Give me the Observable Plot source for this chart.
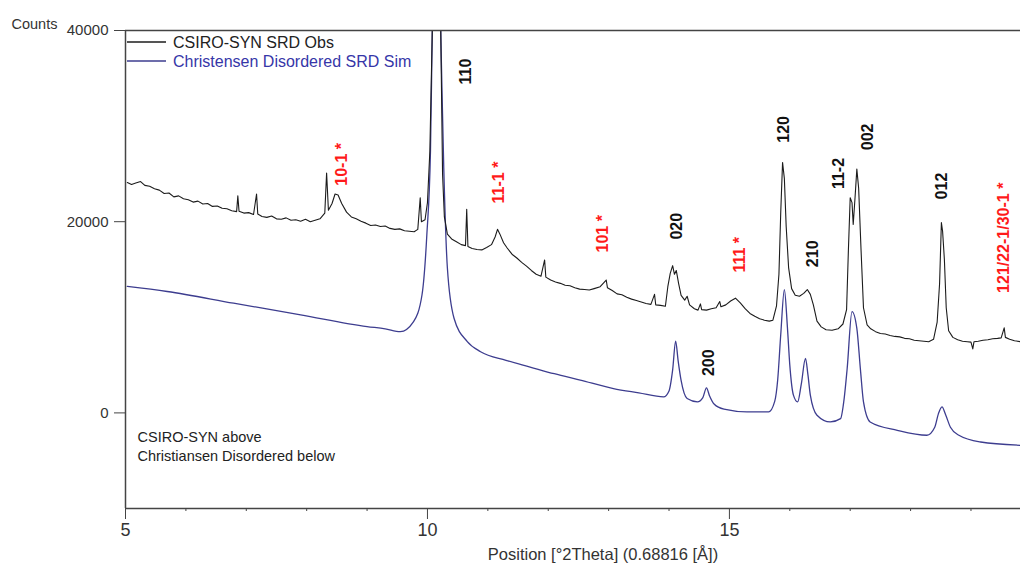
<!DOCTYPE html>
<html><head><meta charset="utf-8">
<script src="https://cdn.jsdelivr.net/npm/d3@7"></script>
<script src="https://cdn.jsdelivr.net/npm/@observablehq/plot@0.6"></script>
<style>
body{margin:0;background:#fff;}
#chart svg{font-family:"Liberation Sans",Arial,sans-serif;overflow:visible;}
</style></head><body><div id="chart"></div>
<script>
// Observed pattern (CSIRO-SYN SRD Obs)
const obsTheta = [5.03,5.10,5.17,5.25,5.32,5.40,5.48,5.56,5.64,5.72,5.80,5.88,5.96,6.04,6.12,6.20,6.28,6.36,6.44,6.52,6.60,6.68,6.76,6.84,6.86,6.88,6.96,7.04,7.12,7.17,7.19,7.26,7.34,7.42,7.50,7.58,7.66,7.74,7.82,7.90,7.98,8.06,8.14,8.22,8.30,8.33,8.36,8.42,8.47,8.52,8.58,8.66,8.74,8.82,8.90,8.98,9.06,9.14,9.22,9.30,9.38,9.46,9.54,9.62,9.70,9.78,9.84,9.88,9.90,9.96,10.00,10.04,10.08,10.15,10.22,10.25,10.28,10.33,10.40,10.48,10.56,10.63,10.65,10.67,10.74,10.82,10.90,10.98,11.06,11.12,11.16,11.20,11.26,11.32,11.40,11.48,11.56,11.64,11.72,11.80,11.88,11.94,11.96,12.04,12.12,12.20,12.28,12.36,12.44,12.52,12.60,12.68,12.76,12.86,12.96,12.98,13.06,13.14,13.22,13.30,13.38,13.46,13.54,13.62,13.70,13.76,13.78,13.86,13.94,13.98,14.02,14.06,14.09,14.12,14.16,14.20,14.26,14.30,14.34,14.42,14.48,14.52,14.54,14.62,14.70,14.78,14.84,14.86,14.94,15.02,15.10,15.18,15.26,15.34,15.42,15.50,15.58,15.66,15.72,15.78,15.82,15.85,15.88,15.91,15.94,15.98,16.03,16.09,16.16,16.23,16.29,16.34,16.39,16.45,16.52,16.60,16.70,16.80,16.88,16.94,16.97,17.00,17.03,17.05,17.08,17.11,17.14,17.18,17.22,17.28,17.34,17.42,17.50,17.58,17.66,17.74,17.82,17.90,17.98,18.06,18.14,18.22,18.30,18.38,18.44,18.48,18.51,18.53,18.56,18.59,18.63,18.70,18.78,18.86,18.94,19.00,19.03,19.05,19.12,19.20,19.28,19.36,19.44,19.50,19.55,19.57,19.64,19.72,19.82];
const obsCounts = [24100,23900,24050,24200,23800,23700,23450,23300,22950,23000,22600,22700,22400,22300,22050,22150,21850,21900,21600,21650,21400,21350,21150,21050,22700,21100,20900,20950,20750,22900,20800,20550,20450,20600,20300,20250,20400,20150,20200,20050,20250,20000,20150,20300,20900,25100,21200,21900,22900,22800,21900,21000,20500,20300,20050,19850,19600,19650,19500,19550,19300,19200,19250,19050,19000,18950,19200,22500,20000,20200,22000,27400,40000,62000,40000,25000,20500,18700,18200,17900,17600,17500,21300,17400,17200,17100,17050,17300,17600,18400,19200,18700,17800,17250,16600,16200,15750,15350,14900,14500,14300,16000,14200,13900,13700,13550,13350,13300,13100,12950,12900,12850,13000,13200,13900,13100,12800,12450,12350,12100,11900,11750,11600,11450,11350,12400,11300,11250,11150,13200,14600,15400,14500,14900,13500,12300,11800,12200,11300,10900,10750,11400,10800,10750,10900,11000,11650,11100,11300,11700,12000,11500,10900,10400,10100,9850,9700,9600,9700,11200,14500,21000,26200,24500,19500,15200,13000,12300,12200,12500,12900,12400,11300,9600,9000,8700,8650,8800,9300,10800,17000,22500,22000,19700,22500,25500,23500,17000,11000,9200,8800,8500,8300,8250,8100,8000,7950,7800,7750,7600,7550,7500,7450,7700,9500,13500,19900,19000,16000,11000,8600,7900,7650,7500,7450,7400,6700,7450,7500,7600,7650,7750,7800,7850,8900,7900,7700,7550,7450];

// Simulated pattern (Christensen Disordered SRD Sim)
const simTheta = [5.03,5.69,6.79,7.90,9.00,9.30,9.55,9.77,9.91,9.99,10.05,10.08,10.15,10.23,10.27,10.33,10.44,10.66,10.88,11.30,11.70,12.10,12.53,13.08,13.50,13.91,14.00,14.06,14.11,14.15,14.20,14.30,14.47,14.56,14.62,14.67,14.75,14.91,15.29,15.65,15.75,15.80,15.85,15.91,15.96,16.00,16.06,16.13,16.19,16.26,16.30,16.34,16.45,16.67,16.84,16.90,16.95,17.03,17.11,17.17,17.22,17.33,17.78,18.27,18.40,18.46,18.52,18.58,18.66,18.80,19.16,19.82];
const simCounts = [13230,12700,11480,10260,9030,8800,8500,9550,12360,18660,27400,40000,62000,36850,25650,15150,9900,7455,6400,5500,4800,4100,3430,2550,2100,1680,2300,4500,7500,5500,3400,1500,1155,1600,2625,1800,900,390,105,105,1200,3500,8200,12900,9000,5000,1860,1155,3000,5700,4000,1860,-240,-945,-600,1500,4650,10600,8850,4500,1155,-945,-1820,-2340,-1500,-100,630,-200,-1500,-2340,-3045,-3390];

const seriesNames = ["CSIRO-SYN SRD Obs", "Christensen Disordered SRD Sim"];
const seriesColors = ["#1c1c1c", "#3d3d8f"];
const legendTextColors = ["#222222", "#3636a8"];

// Reflection labels (hkl), their position, and whether starred (red)
const peakLabels = ["110","10-1 *","11-1 *","101 *","020","111 *","120","210","11-2","002","012","121/22-1/30-1 *","200"];
const peakTheta  = [10.63,8.58,11.19,12.91,14.13,15.18,15.91,16.38,16.81,17.29,18.52,19.54,14.66];
const peakCounts = [35700,26000,24100,18740,19530,16540,29660,16640,25040,28875,23730,18320,5250];
const peakStarred = [false,true,true,true,false,true,false,false,false,false,false,true,false];

const xMajorTicks = [5, 10, 15];
const xMinorTicks = [6, 7, 8, 9, 11, 12, 13, 14, 16, 17, 18, 19];
const yTicks = [0, 20000, 40000];
const xDomain = [5, 19.82];
const yDomain = [-10000, 40000];
const yLabel = "Counts";
const xLabel = "Position [°2Theta] (0.68816 [Å])";
const noteLines = ["CSIRO-SYN above", "Christiansen Disordered below"];

const obs = obsTheta.map((x, i) => ({x, y: obsCounts[i]}));
const sim = simTheta.map((x, i) => ({x, y: simCounts[i]}));
const peaks = peakLabels.map((label, i) => ({label, x: peakTheta[i], y: peakCounts[i], star: peakStarred[i]}));

const axisColor = "#444";

const plot = Plot.plot({
  width: 1020,
  height: 569,
  marginLeft: 125,
  marginRight: 0,
  marginTop: 30,
  marginBottom: 61,
  x: {domain: xDomain},
  y: {domain: yDomain},
  style: {fontFamily: "Liberation Sans, Arial, sans-serif", background: "#fff"},
  marks: [
    Plot.line(sim, {x: "x", y: "y", stroke: seriesColors[1], strokeWidth: 1.3, curve: "monotone-x", clip: true}),
    Plot.line(obs, {x: "x", y: "y", stroke: seriesColors[0], strokeWidth: 1.1, clip: true}),
    Plot.ruleY([yDomain[0], yDomain[1]], {stroke: axisColor, strokeWidth: 1.5}),
    Plot.ruleX([xDomain[0]], {stroke: axisColor, strokeWidth: 1.5}),
    Plot.axisY({ticks: yTicks, tickSize: 11, tickPadding: 6, tickFormat: d3.format("d"), label: null, fontSize: 15, color: "#333", stroke: axisColor}),
    Plot.axisX({ticks: xMinorTicks, tickSize: 3, tickFormat: () => "", label: null, stroke: axisColor}),
    Plot.axisX({ticks: xMajorTicks, tickSize: 11, tickPadding: 4, tickFormat: d3.format("d"), label: null, fontSize: 18, color: "#333", stroke: axisColor}),
    Plot.text([yLabel], {frameAnchor: "top-left", textAnchor: "start", dx: -114, dy: -12, fontSize: 14.5, fill: "#333"}),
    Plot.text([xLabel], {frameAnchor: "bottom", dx: 30, dy: 51, fontSize: 16.5, fill: "#333"}),
    Plot.text([noteLines[0]], {frameAnchor: "bottom-left", textAnchor: "start", dx: 12, dy: -67, fontSize: 14.5, fill: "#222"}),
    Plot.text([noteLines[1]], {frameAnchor: "bottom-left", textAnchor: "start", dx: 12, dy: -48, fontSize: 14.5, fill: "#222"}),
    Plot.text(peaks, {x: "x", y: "y", text: "label", rotate: -90, fontSize: 16, fontWeight: "bold",
      fill: d => d.star ? "#ff1a1a" : "#111"})
  ]
});

// Legend inside the frame, top-left
const svg = d3.select(plot);
const lg = svg.append("g").attr("font-size", 16).attr("text-anchor", "start")
  .attr("font-family", "Liberation Sans, Arial, sans-serif");
seriesNames.forEach((name, i) => {
  const yy = 42 + i * 19;
  lg.append("line").attr("x1", 127).attr("x2", 166).attr("y1", yy).attr("y2", yy)
    .attr("stroke", seriesColors[i]).attr("stroke-width", 1.3);
  lg.append("text").attr("x", 173).attr("y", yy).attr("dy", "0.35em")
    .attr("fill", legendTextColors[i]).text(name);
});

document.getElementById("chart").appendChild(plot);
</script>
</body></html>
